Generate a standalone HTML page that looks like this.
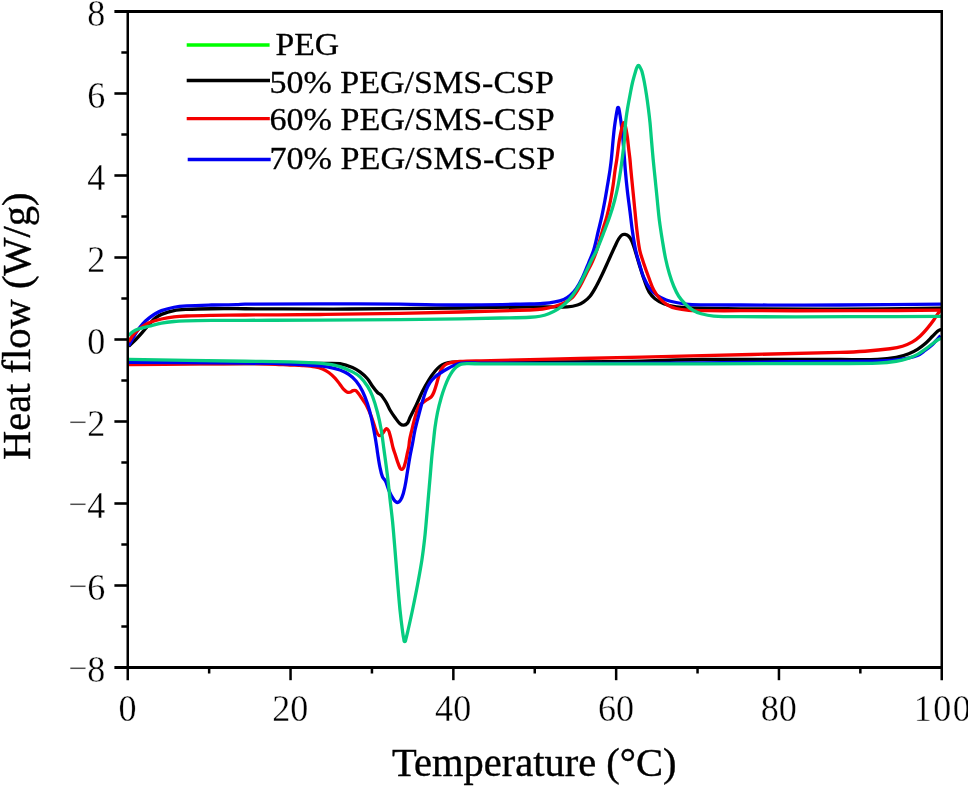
<!DOCTYPE html>
<html><head><meta charset="utf-8"><title>DSC curves</title>
<style>
html,body{margin:0;padding:0;background:#fff}
svg{display:block}
text{font-family:"Liberation Serif","Times New Roman",serif;fill:#000}
.c{fill:none;stroke-linejoin:round;stroke-linecap:butt}
</style></head><body>
<svg width="968" height="786" viewBox="0 0 968 786">
<rect width="968" height="786" fill="#fff"/>
<g id="curves">
<path class="c" stroke="#000" stroke-width="3.3" d="M128.70,363.50C182.47,363.50 236.23,363.55 290.00,363.50C302.50,363.49 315.00,363.24 327.50,363.30C331.67,363.32 335.89,363.06 340.00,363.75C344.29,364.47 348.47,365.86 352.50,367.50C355.18,368.59 357.68,370.16 360.00,371.90C362.71,373.93 365.28,376.20 367.50,378.75C369.47,381.02 370.73,383.82 372.50,386.25C374.07,388.41 375.65,390.57 377.50,392.50C378.34,393.38 379.58,393.79 380.50,394.60C381.26,395.27 381.90,396.08 382.50,396.90C383.82,398.72 385.13,400.55 386.25,402.50C387.64,404.93 388.59,407.59 390.00,410.00C391.51,412.60 393.23,415.07 395.00,417.50C396.57,419.66 398.00,421.99 400.00,423.75C401.01,424.64 402.41,425.32 403.75,425.20C405.18,425.08 406.60,424.21 407.50,423.10C408.79,421.51 409.11,419.34 410.00,417.50C412.03,413.31 414.25,409.21 416.25,405.00C418.41,400.45 420.25,395.75 422.50,391.25C424.42,387.41 426.48,383.64 428.75,380.00C430.65,376.96 432.73,374.02 435.00,371.25C436.49,369.43 438.14,367.69 440.00,366.25C441.50,365.08 443.20,364.11 445.00,363.50C447.25,362.74 449.63,362.30 452.00,362.20C461.66,361.80 471.33,362.03 481.00,362.00C524.00,361.88 567.00,362.24 610.00,361.75C640.67,361.40 671.33,359.80 702.00,359.50C748.00,359.05 794.00,359.53 840.00,359.50C852.50,359.49 865.01,359.87 877.50,359.40C883.78,359.17 890.07,358.53 896.25,357.40C900.52,356.62 904.69,355.25 908.75,353.70C911.80,352.54 914.72,351.00 917.50,349.30C920.15,347.68 922.65,345.79 925.00,343.75C927.67,341.43 930.00,338.75 932.50,336.25C934.17,334.58 935.72,332.79 937.50,331.25C938.23,330.61 939.07,330.02 940.00,329.75C940.61,329.58 941.27,329.92 941.90,330.00"/>
<path class="c" stroke="#f40000" stroke-width="3.3" d="M128.70,364.60C152.47,364.37 176.23,364.12 200.00,363.90C215.00,363.76 230.00,363.48 245.00,363.50C253.33,363.51 261.67,363.72 270.00,364.00C276.67,364.22 283.33,364.67 290.00,365.00C294.17,365.21 298.34,365.28 302.50,365.60C306.68,365.92 310.87,366.20 315.00,366.90C317.56,367.34 320.10,368.02 322.50,369.00C324.71,369.90 326.82,371.09 328.75,372.50C331.01,374.15 333.08,376.07 335.00,378.10C336.84,380.05 338.36,382.28 340.00,384.40C341.28,386.05 342.34,387.87 343.75,389.40C344.66,390.39 345.68,391.34 346.90,391.90C347.85,392.33 348.98,392.46 350.00,392.25C351.15,392.01 351.98,390.93 353.10,390.60C353.90,390.36 354.85,390.23 355.60,390.60C356.65,391.13 357.37,392.17 358.10,393.10C359.68,395.12 361.05,397.29 362.50,399.40C363.77,401.25 365.21,403.01 366.25,405.00C368.14,408.64 369.76,412.43 371.25,416.25C372.68,419.93 373.67,423.78 375.00,427.50C375.75,429.61 376.33,431.83 377.50,433.75C378.05,434.65 378.95,435.84 380.00,435.70C381.33,435.52 382.10,434.00 383.00,433.00C384.19,431.67 384.63,429.49 386.25,428.75C387.11,428.36 388.01,429.69 388.50,430.50C389.31,431.86 389.56,433.48 390.00,435.00C390.48,436.65 390.85,438.33 391.25,440.00C391.88,442.66 392.38,445.36 393.10,448.00C393.63,449.95 394.36,451.83 395.00,453.75C396.25,457.50 397.16,461.38 398.75,465.00C399.48,466.65 400.13,469.75 401.90,469.40C404.01,468.98 404.32,465.79 405.00,463.75C406.21,460.10 406.66,456.25 407.50,452.50C407.91,450.67 408.44,448.85 408.75,447.00C409.14,444.68 409.20,442.32 409.60,440.00C410.03,437.48 410.65,434.99 411.25,432.50C412.45,427.49 413.58,422.46 415.00,417.50C416.09,413.70 416.82,409.70 418.75,406.25C419.83,404.32 422.01,403.26 423.75,401.90C424.93,400.97 426.25,400.23 427.50,399.40C428.75,398.57 430.24,398.01 431.25,396.90C432.38,395.65 433.10,394.06 433.75,392.50C434.77,390.07 435.48,387.52 436.25,385.00C437.14,382.10 437.82,379.14 438.75,376.25C439.49,373.94 440.07,371.52 441.25,369.40C442.19,367.72 443.45,366.15 445.00,365.00C446.45,363.92 448.24,363.31 450.00,362.90C453.28,362.14 456.64,361.73 460.00,361.50C466.99,361.03 474.00,360.98 481.00,360.80C514.00,359.98 547.00,359.28 580.00,358.50C620.67,357.54 661.33,356.55 702.00,355.60C748.00,354.52 794.00,353.63 840.00,352.40C848.34,352.18 856.68,351.86 865.00,351.25C873.35,350.64 881.70,349.86 890.00,348.75C894.21,348.19 898.44,347.49 902.50,346.25C905.98,345.19 909.34,343.70 912.50,341.90C915.22,340.35 917.70,338.37 920.00,336.25C922.72,333.75 925.12,330.92 927.50,328.10C929.70,325.50 931.76,322.77 933.75,320.00C935.51,317.56 936.95,314.90 938.75,312.50C939.46,311.56 940.42,310.83 941.25,310.00"/>
<path class="c" stroke="#0000f2" stroke-width="3.3" d="M128.70,362.25C167.47,362.53 206.23,362.66 245.00,363.10C260.00,363.27 275.01,363.56 290.00,364.10C298.34,364.40 306.67,364.98 315.00,365.60C319.18,365.91 323.37,366.17 327.50,366.90C331.73,367.64 335.95,368.57 340.00,370.00C343.08,371.09 346.07,372.54 348.75,374.40C351.53,376.33 354.11,378.63 356.25,381.25C358.74,384.30 360.74,387.73 362.50,391.25C364.51,395.26 366.08,399.49 367.50,403.75C369.00,408.26 370.18,412.87 371.25,417.50C372.68,423.71 373.84,429.98 375.00,436.25C375.72,440.15 376.30,444.08 376.90,448.00C377.13,449.50 377.26,451.01 377.50,452.50C378.30,457.51 378.98,462.53 380.00,467.50C380.65,470.68 381.28,473.90 382.50,476.90C383.17,478.55 384.83,479.64 385.60,481.25C386.93,484.05 387.54,487.15 388.75,490.00C389.84,492.57 390.90,495.21 392.50,497.50C393.85,499.43 395.14,502.50 397.50,502.50C399.72,502.50 400.97,499.52 401.90,497.50C403.53,493.97 404.19,490.05 405.00,486.25C406.06,481.29 406.67,476.25 407.50,471.25C408.33,466.25 409.09,461.24 410.00,456.25C410.76,452.07 411.70,447.92 412.50,443.75C413.37,439.17 414.01,434.55 415.00,430.00C416.09,424.96 417.45,419.99 418.75,415.00C419.95,410.40 421.13,405.80 422.50,401.25C423.64,397.46 424.78,393.67 426.25,390.00C427.29,387.40 428.45,384.82 430.00,382.50C431.39,380.42 433.13,378.56 435.00,376.90C436.90,375.21 439.12,373.89 441.25,372.50C443.29,371.17 445.37,369.92 447.50,368.75C449.54,367.62 451.61,366.53 453.75,365.60C455.78,364.71 457.83,363.79 460.00,363.30C462.04,362.84 464.16,362.81 466.25,362.80C471.17,362.78 476.08,363.18 481.00,363.20C520.67,363.35 560.33,363.34 600.00,363.30C634.00,363.27 668.00,363.29 702.00,363.00C731.34,362.75 760.67,362.04 790.00,361.70C806.67,361.51 823.33,361.53 840.00,361.40C853.33,361.30 866.67,361.42 880.00,361.00C886.68,360.79 893.39,360.47 900.00,359.50C905.92,358.63 911.87,357.53 917.50,355.50C920.33,354.48 922.58,352.28 925.00,350.50C927.58,348.61 930.14,346.67 932.50,344.50C934.32,342.82 935.83,340.83 937.50,339.00C938.53,337.87 939.57,336.73 940.60,335.60"/>
<path class="c" stroke="#000" stroke-width="3.3" d="M128.70,346.25C131.30,343.75 133.98,341.33 136.50,338.75C138.66,336.54 140.72,334.23 142.75,331.90C144.89,329.45 146.82,326.81 149.00,324.40C150.99,322.21 152.94,319.95 155.25,318.10C157.14,316.59 159.25,315.30 161.50,314.40C165.54,312.78 169.73,311.45 174.00,310.60C178.10,309.78 182.32,309.61 186.50,309.40C194.83,308.99 203.16,308.84 211.50,308.75C222.67,308.63 233.83,308.73 245.00,308.75C280.00,308.81 315.00,309.12 350.00,309.00C386.67,308.87 423.33,308.43 460.00,308.00C483.33,307.73 506.67,307.17 530.00,306.90C538.33,306.80 546.67,306.90 555.00,306.90C559.17,306.90 563.35,307.25 567.50,306.90C570.88,306.61 574.26,306.00 577.50,305.00C579.72,304.32 581.84,303.23 583.75,301.90C586.05,300.29 588.25,298.44 590.00,296.25C592.45,293.18 594.34,289.69 596.25,286.25C598.51,282.18 600.50,277.96 602.50,273.75C604.66,269.20 606.67,264.58 608.75,260.00C610.83,255.42 612.86,250.81 615.00,246.25C616.19,243.72 617.29,241.13 618.75,238.75C619.60,237.36 620.56,235.93 621.90,235.00C622.76,234.40 623.96,234.21 625.00,234.40C626.37,234.65 627.76,235.27 628.75,236.25C630.15,237.64 631.11,239.45 631.90,241.25C633.27,244.39 634.17,247.73 635.20,251.00C636.87,256.31 638.33,261.69 640.00,267.00C641.53,271.86 643.05,276.72 644.80,281.50C646.12,285.12 647.24,288.88 649.20,292.20C650.68,294.71 652.72,296.94 655.00,298.75C657.63,300.84 660.61,302.55 663.75,303.75C667.76,305.29 672.01,306.20 676.25,306.90C680.37,307.58 684.57,307.78 688.75,307.90C706.16,308.41 723.58,308.66 741.00,308.80C774.00,309.06 807.00,309.20 840.00,309.10C873.97,309.00 907.93,308.50 941.90,308.20"/>
<path class="c" stroke="#0000f2" stroke-width="3.3" d="M128.70,345.60C129.80,343.73 130.92,341.88 132.00,340.00C133.52,337.35 134.81,334.55 136.50,332.00C138.40,329.12 140.44,326.32 142.75,323.75C144.63,321.66 146.81,319.85 149.00,318.10C150.98,316.51 153.07,315.06 155.25,313.75C157.25,312.55 159.30,311.36 161.50,310.60C165.58,309.19 169.76,308.05 174.00,307.25C178.12,306.48 182.32,306.15 186.50,305.90C194.82,305.40 203.16,305.22 211.50,305.00C219.83,304.78 228.17,304.80 236.50,304.60C239.34,304.53 242.16,304.23 245.00,304.20C270.00,303.96 295.00,303.82 320.00,303.80C346.67,303.78 373.33,303.87 400.00,304.10C420.00,304.27 440.00,305.02 460.00,305.00C483.34,304.98 506.67,304.42 530.00,304.00C534.17,303.92 538.34,303.85 542.50,303.50C546.69,303.15 550.88,302.70 555.00,301.90C557.98,301.33 560.95,300.57 563.75,299.40C566.00,298.46 568.14,297.18 570.00,295.60C572.35,293.60 574.49,291.29 576.25,288.75C578.69,285.22 580.66,281.37 582.50,277.50C584.83,272.61 586.71,267.52 588.75,262.50C590.44,258.35 592.40,254.29 593.70,250.00C595.59,243.76 596.78,237.34 598.30,231.00C599.51,225.94 600.80,220.89 601.90,215.80C603.00,210.72 603.96,205.61 604.90,200.50C605.83,195.44 606.65,190.37 607.50,185.30C608.35,180.20 609.25,175.11 610.00,170.00C610.55,166.26 611.01,162.51 611.40,158.75C612.05,152.51 612.50,146.25 613.10,140.00C613.50,135.83 613.88,131.66 614.40,127.50C614.93,123.32 615.58,119.16 616.25,115.00C616.55,113.16 616.86,111.31 617.30,109.50C617.48,108.74 617.32,107.30 618.10,107.30C618.89,107.30 618.81,108.73 619.00,109.50C619.45,111.31 619.72,113.16 620.00,115.00C620.55,118.66 621.06,122.33 621.50,126.00C622.06,130.66 622.60,135.32 623.00,140.00C623.86,149.99 624.45,160.01 625.30,170.00C625.88,176.77 626.54,183.54 627.30,190.30C628.07,197.11 629.05,203.90 629.90,210.70C630.75,217.46 631.42,224.25 632.40,231.00C633.32,237.36 634.26,243.72 635.60,250.00C636.59,254.65 638.05,259.19 639.40,263.75C640.77,268.36 641.87,273.07 643.75,277.50C645.42,281.45 647.41,285.33 650.00,288.75C652.05,291.45 654.72,293.67 657.50,295.60C660.18,297.46 663.19,298.87 666.25,300.00C669.47,301.19 672.88,301.86 676.25,302.50C680.38,303.29 684.55,303.98 688.75,304.30C694.98,304.78 701.25,304.82 707.50,304.90C718.67,305.05 729.83,304.99 741.00,305.00C774.00,305.02 807.00,305.13 840.00,305.00C873.97,304.86 907.93,304.47 941.90,304.20"/>
<path class="c" stroke="#f40000" stroke-width="3.3" d="M128.70,342.00C129.80,340.17 130.74,338.23 132.00,336.50C133.35,334.63 134.83,332.84 136.50,331.25C138.43,329.41 140.54,327.75 142.75,326.25C144.72,324.91 146.77,323.61 149.00,322.75C153.06,321.18 157.26,319.99 161.50,319.00C165.61,318.04 169.81,317.40 174.00,316.90C178.15,316.40 182.33,316.17 186.50,316.00C194.83,315.67 203.17,315.54 211.50,315.40C222.67,315.21 233.83,315.09 245.00,315.00C270.00,314.79 295.00,314.76 320.00,314.50C346.67,314.22 373.34,313.88 400.00,313.40C420.00,313.04 440.00,312.52 460.00,312.00C483.33,311.39 506.67,310.85 530.00,310.00C534.18,309.85 538.37,309.62 542.50,309.00C546.72,308.37 550.90,307.43 555.00,306.25C558.42,305.26 561.82,304.09 565.00,302.50C567.69,301.16 570.46,299.71 572.50,297.50C575.56,294.19 577.74,290.15 580.00,286.25C582.33,282.22 584.17,277.92 586.25,273.75C588.33,269.58 590.59,265.50 592.50,261.25C594.15,257.58 595.65,253.83 596.90,250.00C598.95,243.73 600.53,237.32 602.40,231.00C603.90,225.92 605.64,220.92 607.00,215.80C608.34,210.74 609.47,205.63 610.50,200.50C611.51,195.46 612.33,190.38 613.10,185.30C613.87,180.21 614.37,175.09 615.10,170.00C615.64,166.24 616.36,162.51 616.90,158.75C617.79,152.51 618.40,146.23 619.40,140.00C620.07,135.80 620.97,131.65 621.90,127.50C622.17,126.31 622.57,125.14 623.00,124.00C623.19,123.50 623.22,122.60 623.75,122.60C624.33,122.60 624.62,123.45 624.80,124.00C625.45,125.95 625.81,127.98 626.20,130.00C626.71,132.65 627.14,135.32 627.50,138.00C627.94,141.32 628.21,144.67 628.60,148.00C629.01,151.59 629.52,155.16 629.90,158.75C630.29,162.49 630.54,166.25 630.90,170.00C631.54,176.77 632.23,183.53 632.90,190.30C633.57,197.10 634.22,203.90 634.90,210.70C635.58,217.47 636.18,224.25 637.00,231.00C637.78,237.35 638.40,243.74 639.70,250.00C640.66,254.60 642.28,259.04 643.75,263.50C645.30,268.21 647.00,272.86 648.75,277.50C650.33,281.70 651.65,286.03 653.75,290.00C655.43,293.17 657.58,296.11 660.00,298.75C662.20,301.15 664.71,303.33 667.50,305.00C670.19,306.62 673.20,307.75 676.25,308.50C680.33,309.51 684.55,309.95 688.75,310.25C694.99,310.69 701.25,310.65 707.50,310.70C718.67,310.80 729.83,310.70 741.00,310.70C777.33,310.70 813.67,310.79 850.00,310.70C880.63,310.62 911.27,310.37 941.90,310.20"/>
<path class="c" stroke="#06cc80" stroke-width="3.3" d="M128.70,359.40C167.47,360.02 206.23,360.65 245.00,361.25C260.00,361.48 275.00,361.55 290.00,361.90C298.34,362.10 306.67,362.41 315.00,362.90C319.18,363.15 323.36,363.49 327.50,364.10C331.70,364.72 335.94,365.33 340.00,366.60C344.32,367.95 348.48,369.83 352.50,371.90C355.17,373.28 357.83,374.82 360.00,376.90C362.89,379.66 365.33,382.89 367.50,386.25C369.52,389.38 371.17,392.77 372.50,396.25C374.52,401.55 376.08,407.01 377.50,412.50C379.00,418.27 380.22,424.12 381.25,430.00C382.30,435.97 382.93,442.00 383.75,448.00C385.02,457.33 386.35,466.65 387.50,476.00C388.44,483.65 389.15,491.34 390.00,499.00C390.82,506.34 391.75,513.66 392.50,521.00C393.08,526.66 393.52,532.33 394.00,538.00C394.62,545.33 395.21,552.67 395.80,560.00C396.47,568.33 397.10,576.67 397.80,585.00C398.50,593.34 399.15,601.68 400.00,610.00C400.72,617.01 401.58,624.01 402.50,631.00C402.85,633.68 403.24,636.36 403.80,639.00C403.99,639.90 403.83,641.60 404.75,641.60C405.70,641.60 405.64,639.91 405.90,639.00C406.76,636.03 407.41,633.01 408.10,630.00C409.61,623.34 411.10,616.68 412.50,610.00C414.24,601.68 415.93,593.35 417.50,585.00C419.06,576.68 420.62,568.36 421.90,560.00C423.02,552.69 423.87,545.35 424.70,538.00C425.34,532.34 425.79,526.67 426.30,521.00C426.96,513.67 427.56,506.33 428.20,499.00C428.86,491.33 429.54,483.67 430.20,476.00C430.77,469.33 431.27,462.66 431.90,456.00C432.40,450.66 433.02,445.33 433.60,440.00C434.05,435.83 434.41,431.65 435.00,427.50C435.71,422.48 436.47,417.46 437.50,412.50C438.55,407.45 439.83,402.46 441.25,397.50C442.34,393.70 443.61,389.95 445.00,386.25C446.11,383.28 447.33,380.34 448.75,377.50C449.84,375.33 451.10,373.23 452.50,371.25C453.61,369.69 454.82,368.17 456.25,366.90C457.35,365.93 458.64,365.16 460.00,364.60C461.18,364.11 462.48,363.93 463.75,363.80C465.41,363.63 467.08,363.70 468.75,363.70C472.83,363.70 476.92,363.80 481.00,363.80C554.67,363.83 628.33,363.86 702.00,363.80C748.00,363.76 794.00,363.68 840.00,363.50C852.50,363.45 865.01,363.60 877.50,363.10C883.78,362.85 890.05,362.24 896.25,361.25C900.49,360.57 904.66,359.42 908.75,358.10C911.76,357.13 914.71,355.89 917.50,354.40C920.15,352.98 922.55,351.14 925.00,349.40C927.55,347.59 930.00,345.63 932.50,343.75C934.17,342.50 935.75,341.13 937.50,340.00C938.68,339.24 940.00,338.73 941.25,338.10"/>
<path class="c" stroke="#06cc80" stroke-width="3.3" d="M128.70,335.60C130.13,334.27 131.37,332.68 133.00,331.60C134.84,330.37 136.90,329.45 139.00,328.75C142.26,327.66 145.67,327.09 149.00,326.25C153.17,325.20 157.28,323.90 161.50,323.10C165.63,322.32 169.82,321.87 174.00,321.50C178.16,321.13 182.33,321.02 186.50,320.90C194.83,320.66 203.17,320.49 211.50,320.40C222.67,320.29 233.83,320.33 245.00,320.30C270.00,320.23 295.00,320.21 320.00,320.10C346.67,319.98 373.33,319.83 400.00,319.60C420.00,319.43 440.00,319.22 460.00,318.90C473.34,318.69 486.67,318.31 500.00,318.00C510.00,317.76 520.01,317.69 530.00,317.25C533.35,317.10 536.71,316.86 540.00,316.25C542.98,315.69 545.93,314.86 548.75,313.75C551.78,312.56 554.73,311.11 557.50,309.40C560.17,307.76 562.70,305.87 565.00,303.75C567.72,301.25 570.28,298.55 572.50,295.60C575.30,291.86 577.70,287.82 580.00,283.75C582.29,279.69 584.21,275.44 586.25,271.25C588.31,267.02 590.21,262.71 592.30,258.50C593.73,255.63 595.51,252.93 596.80,250.00C599.55,243.76 601.94,237.36 604.40,231.00C606.34,225.96 608.29,220.92 610.00,215.80C611.69,210.75 613.23,205.65 614.60,200.50C615.93,195.47 617.08,190.40 618.10,185.30C619.11,180.23 619.93,175.11 620.70,170.00C621.39,165.43 621.93,160.84 622.50,156.25C623.17,150.84 623.90,145.43 624.40,140.00C624.93,134.18 625.02,128.32 625.60,122.50C626.06,117.90 626.77,113.32 627.50,108.75C628.24,104.15 629.13,99.58 630.00,95.00C630.80,90.83 631.52,86.64 632.50,82.50C633.39,78.71 634.50,74.98 635.60,71.25C636.00,69.88 636.37,68.48 637.00,67.20C637.35,66.47 637.69,65.30 638.50,65.30C639.31,65.30 639.60,66.50 640.00,67.20C640.74,68.49 641.49,69.82 641.90,71.25C642.96,74.94 643.67,78.73 644.40,82.50C645.20,86.65 645.86,90.82 646.50,95.00C647.20,99.57 647.82,104.16 648.40,108.75C648.98,113.33 649.54,117.91 650.00,122.50C650.49,127.49 650.82,132.50 651.25,137.50C651.86,144.58 652.44,151.67 653.10,158.75C653.69,165.00 654.37,171.25 655.00,177.50C655.63,183.75 656.27,190.00 656.90,196.25C657.52,202.50 658.08,208.76 658.75,215.00C659.11,218.34 659.52,221.67 660.00,225.00C660.78,230.43 661.60,235.84 662.50,241.25C663.47,247.09 664.37,252.96 665.60,258.75C666.67,263.80 667.93,268.80 669.40,273.75C670.65,277.98 672.06,282.18 673.75,286.25C675.18,289.69 676.73,293.12 678.75,296.25C680.51,298.99 682.70,301.45 685.00,303.75C687.30,306.05 689.73,308.29 692.50,310.00C695.20,311.66 698.20,312.87 701.25,313.75C705.33,314.92 709.52,315.79 713.75,316.10C722.81,316.77 731.91,316.66 741.00,316.70C777.33,316.86 813.67,316.75 850.00,316.70C880.63,316.65 911.27,316.50 941.90,316.40"/>
</g>
<g id="axes" stroke="#000" fill="none">
<line x1="114.4" y1="11.5" x2="943.0" y2="11.5" stroke-width="3"/>
<line x1="114.4" y1="667.5" x2="943.0" y2="667.5" stroke-width="3"/>
<line x1="127.75" y1="11.5" x2="127.75" y2="680.2" stroke-width="2.5"/>
<line x1="941.75" y1="10.0" x2="941.75" y2="680.2" stroke-width="2.5"/>
<line x1="114.4" y1="585.50" x2="127.75" y2="585.50" stroke-width="2.6"/>
<line x1="114.4" y1="503.50" x2="127.75" y2="503.50" stroke-width="2.6"/>
<line x1="114.4" y1="421.50" x2="127.75" y2="421.50" stroke-width="2.6"/>
<line x1="114.4" y1="339.50" x2="127.75" y2="339.50" stroke-width="2.6"/>
<line x1="114.4" y1="257.50" x2="127.75" y2="257.50" stroke-width="2.6"/>
<line x1="114.4" y1="175.50" x2="127.75" y2="175.50" stroke-width="2.6"/>
<line x1="114.4" y1="93.50" x2="127.75" y2="93.50" stroke-width="2.6"/>
<line x1="121.35" y1="626.50" x2="127.75" y2="626.50" stroke-width="2.5"/>
<line x1="121.35" y1="544.50" x2="127.75" y2="544.50" stroke-width="2.5"/>
<line x1="121.35" y1="462.50" x2="127.75" y2="462.50" stroke-width="2.5"/>
<line x1="121.35" y1="380.50" x2="127.75" y2="380.50" stroke-width="2.5"/>
<line x1="121.35" y1="298.50" x2="127.75" y2="298.50" stroke-width="2.5"/>
<line x1="121.35" y1="216.50" x2="127.75" y2="216.50" stroke-width="2.5"/>
<line x1="121.35" y1="134.50" x2="127.75" y2="134.50" stroke-width="2.5"/>
<line x1="121.35" y1="52.50" x2="127.75" y2="52.50" stroke-width="2.5"/>
<line x1="290.55" y1="667.5" x2="290.55" y2="680.2" stroke-width="2.5"/>
<line x1="453.35" y1="667.5" x2="453.35" y2="680.2" stroke-width="2.5"/>
<line x1="616.15" y1="667.5" x2="616.15" y2="680.2" stroke-width="2.5"/>
<line x1="778.95" y1="667.5" x2="778.95" y2="680.2" stroke-width="2.5"/>
<line x1="209.15" y1="667.5" x2="209.15" y2="673.5" stroke-width="2.5"/>
<line x1="371.95" y1="667.5" x2="371.95" y2="673.5" stroke-width="2.5"/>
<line x1="534.75" y1="667.5" x2="534.75" y2="673.5" stroke-width="2.5"/>
<line x1="697.55" y1="667.5" x2="697.55" y2="673.5" stroke-width="2.5"/>
<line x1="860.35" y1="667.5" x2="860.35" y2="673.5" stroke-width="2.5"/>
</g>
<g id="ticklabels" font-size="38.0" stroke="#fff" stroke-width="0.35">
<text transform="translate(105.2,681.8) scale(0.95,1)" text-anchor="end"><tspan font-size="35.5" dy="-2">−</tspan><tspan dy="2">8</tspan></text>
<text transform="translate(105.2,599.8) scale(0.95,1)" text-anchor="end"><tspan font-size="35.5" dy="-2">−</tspan><tspan dy="2">6</tspan></text>
<text transform="translate(105.2,517.8) scale(0.95,1)" text-anchor="end"><tspan font-size="35.5" dy="-2">−</tspan><tspan dy="2">4</tspan></text>
<text transform="translate(105.2,435.8) scale(0.95,1)" text-anchor="end"><tspan font-size="35.5" dy="-2">−</tspan><tspan dy="2">2</tspan></text>
<text transform="translate(105.2,353.8) scale(0.95,1)" text-anchor="end">0</text>
<text transform="translate(105.2,271.8) scale(0.95,1)" text-anchor="end">2</text>
<text transform="translate(105.2,189.8) scale(0.95,1)" text-anchor="end">4</text>
<text transform="translate(105.2,107.8) scale(0.95,1)" text-anchor="end">6</text>
<text transform="translate(105.2,25.8) scale(0.95,1)" text-anchor="end">8</text>
<text transform="translate(127.55,720.6) scale(0.95,1)" text-anchor="middle">0</text>
<text transform="translate(290.35,720.6) scale(0.95,1)" text-anchor="middle">20</text>
<text transform="translate(453.15,720.6) scale(0.95,1)" text-anchor="middle">40</text>
<text transform="translate(615.95,720.6) scale(0.95,1)" text-anchor="middle">60</text>
<text transform="translate(778.75,720.6) scale(0.95,1)" text-anchor="middle">80</text>
<text transform="translate(913.8,720.6) scale(0.95,1)" letter-spacing="1.5">100</text>
</g>
<text id="xtitle" stroke="#000" stroke-width="0.4" x="534.25" y="776.3" font-size="40.5" text-anchor="middle">Temperature (°C)</text>
<text id="ytitle" stroke="#000" stroke-width="0.4" transform="translate(29.6,326.25) rotate(-90)" font-size="40.5" text-anchor="middle">Heat flow (W/g)</text>
<g id="legend" font-size="32.0" stroke-width="0.3">
<line x1="186.7" y1="45" x2="269.6" y2="45" stroke="#00ff00" stroke-width="3.4"/>
<text stroke="#000" transform="translate(275.5,55.3) scale(1.053,1)">PEG</text>
<line x1="186.7" y1="80.5" x2="270.0" y2="80.5" stroke="#000" stroke-width="3.4"/>
<text stroke="#000" transform="translate(269.4,92.7) scale(1.064,1)">50% PEG/SMS-CSP</text>
<line x1="186.7" y1="118.6" x2="269.8" y2="118.6" stroke="#f40000" stroke-width="3.4"/>
<text stroke="#000" transform="translate(269.4,130.0) scale(1.066,1)">60% PEG/SMS-CSP</text>
<line x1="187.7" y1="159.5" x2="270.7" y2="159.5" stroke="#0000f2" stroke-width="3.4"/>
<text stroke="#000" transform="translate(269.4,169.0) scale(1.068,1)">70% PEG/SMS-CSP</text>
</g>
</svg></body></html>
